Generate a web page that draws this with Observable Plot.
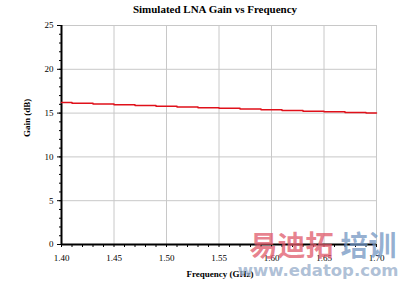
<!DOCTYPE html>
<html><head><meta charset="utf-8">
<script src="https://cdn.jsdelivr.net/npm/d3@7"></script>
<script src="https://cdn.jsdelivr.net/npm/@observablehq/plot@0.6"></script>
<style>body{margin:0;background:#fff}svg{display:block}</style>
</head><body><div id="c"></div>
<script>
const freq = [1.40,1.42,1.44,1.46,1.48,1.50,1.52,1.54,1.56,1.58,1.60,1.62,1.64,1.66,1.68,1.70];
const gain = [16.2,16.12,16.05,15.95,15.87,15.78,15.7,15.62,15.54,15.46,15.38,15.3,15.22,15.14,15.06,15.0];
const xTicks = [1.40,1.45,1.50,1.55,1.60,1.65,1.70];
const yTicks = [0,5,10,15,20,25];
const title = "Simulated LNA Gain vs Frequency";
const xLabel = "Frequency (GHz)";
const yLabel = "Gain (dB)";
const wmCn1 = "易迪拓";
const wmCn2 = "培训";
const wmUrl = "www.edatop.com";
const data = freq.map((f,i)=>({f, g: gain[i]}));
const xMinor = d3.range(140,171,1).map(v=>v/100);
const yMinor = d3.range(0,26,1);
const font = "'Liberation Serif', 'DejaVu Serif', serif";
const chart = Plot.plot({
  width: 400, height: 289,
  marginTop: 25, marginBottom: 45, marginLeft: 61, marginRight: 24,
  style: {fontFamily: font, fontSize: "9px", color: "#000", background: "#fff"},
  x: {type: "linear", domain: [1.40,1.70], label: null},
  y: {type: "linear", domain: [0,25], label: null},
  marks: [
    Plot.gridY(yTicks, {stroke: "#c8c8c8", strokeOpacity: 1}),
    Plot.gridX(xTicks.slice(1), {stroke: "#c8c8c8", strokeOpacity: 1}),
    Plot.axisY({ticks: yMinor, tickSize: 2, tickFormat: () => "", stroke: "#000"}),
    Plot.axisY({ticks: yTicks, tickSize: 4, tickPadding: 4, fontSize: 9, stroke: "#000"}),
    Plot.axisX({ticks: xMinor, tickSize: 3, tickFormat: () => "", stroke: "#000"}),
    Plot.axisX({ticks: xTicks, tickFormat: d=>d.toFixed(2), tickSize: 0, tickPadding: 10, fontSize: 9}),
    Plot.ruleY([0], {stroke: "#000", strokeWidth: 2}),
    Plot.ruleX([1.40], {stroke: "#000", strokeWidth: 2}),
    Plot.line(data, {x: "f", y: "g", stroke: "#e0101a", strokeWidth: 1.5, curve: "step"}),
    Plot.text([title], {frameAnchor: "top", dx: -4, dy: -20, fontSize: 11, fontWeight: "bold", text: d=>d}),
    Plot.text([xLabel], {frameAnchor: "bottom", dy: 32, dx: 1, fontSize: 9, fontWeight: "bold", text: d=>d}),
    Plot.text([yLabel], {frameAnchor: "left", dx: -34, dy: 2, rotate: -90, fontSize: 9, fontWeight: "bold", text: d=>d}),
    Plot.text([wmCn1], {frameAnchor: "bottom-left", dx: 188, dy: 11, fontSize: 28, fontWeight: "bold", fill: "#e05a6a", fillOpacity: 0.75, textAnchor: "start", fontFamily: "Noto Sans CJK SC", text: d=>d}),
    Plot.text([wmCn2], {frameAnchor: "bottom-left", dx: 279, dy: 11, fontSize: 28, fontWeight: "bold", fill: "#7396c2", fillOpacity: 0.75, textAnchor: "start", fontFamily: "Noto Sans CJK SC", text: d=>d}),
    Plot.text([wmUrl], {frameAnchor: "bottom-right", dx: 22, dy: 31, fontSize: 16.5, fontWeight: "bold", fill: "#9ab0cc", fillOpacity: 0.8, textAnchor: "end", fontFamily: "DejaVu Sans", text: d=>d})
  ]
});
document.getElementById("c").appendChild(chart);
</script></body></html>
